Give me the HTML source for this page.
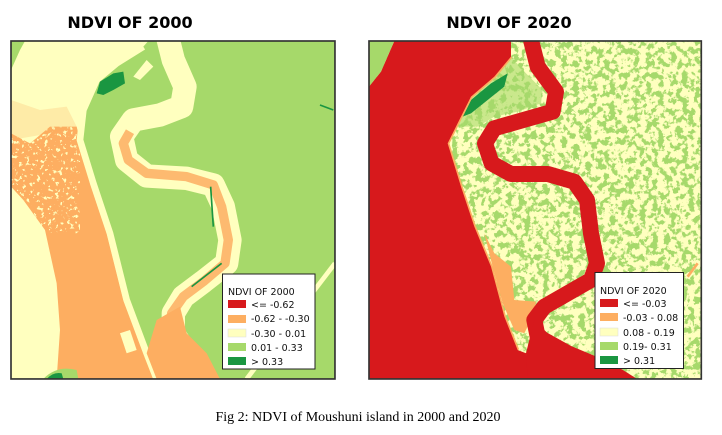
<!DOCTYPE html>
<html><head><meta charset="utf-8"><style>
html,body{margin:0;padding:0;background:#fff;width:722px;height:435px;overflow:hidden}
svg{display:block}
</style></head><body>
<svg width="722" height="435" viewBox="0 0 722 435" xmlns="http://www.w3.org/2000/svg">
<defs>
<filter id="sp" x="0" y="0" width="1100" height="1200" filterUnits="userSpaceOnUse" color-interpolation-filters="sRGB">
<feTurbulence type="fractalNoise" baseFrequency="0.055" numOctaves="4" seed="4"/>
<feColorMatrix type="matrix" values="0 0 0 0 0.65  0 0 0 0 0.85  0 0 0 0 0.42  12 0 0 0 -5.9"/>
</filter>
<filter id="sp2" x="0" y="0" width="1100" height="1200" filterUnits="userSpaceOnUse" color-interpolation-filters="sRGB">
<feTurbulence type="fractalNoise" baseFrequency="0.09" numOctaves="3" seed="9"/>
<feColorMatrix type="matrix" values="0 0 0 0 1  0 0 0 0 1  0 0 0 0 0.75  14 0 0 0 -8.6"/>
</filter>
<clipPath id="c1"><rect x="33" y="123" width="972" height="1014"/></clipPath>
<clipPath id="c2"><rect x="24" y="123" width="997" height="1014"/></clipPath>
<clipPath id="or"><polygon points="33,380 240,380 240,700 33,700"/></clipPath>
</defs>

<text x="130" y="28" font-family="DejaVu Sans, sans-serif" font-weight="bold" font-size="16" text-anchor="middle">NDVI OF 2000</text>
<text x="509" y="28" font-family="DejaVu Sans, sans-serif" font-weight="bold" font-size="16" text-anchor="middle">NDVI OF 2020</text>

<!-- MAP 1 -->
<g transform="scale(0.3333)">
<g clip-path="url(#c1)">
<rect x="33" y="123" width="972" height="1014" fill="#a6d96a"/>
<polygon fill="#ffffbf" points="33,210 60,150 75,123 445,123 430,140 350,190 290,240 250,330 240,420 280,550 330,700 380,900 440,1060 470,1137 33,1137"/>
<polygon fill="#fdae61" points="33,400 90,430 150,380 230,380 240,420 270,550 320,700 370,900 430,1060 460,1137 170,1137 180,990 170,850 135,690 70,600 33,560"/>
<g clip-path="url(#or)"><rect x="0" y="0" width="1100" height="1200" filter="url(#sp2)"/></g>
<polygon fill="#fdae61" opacity="0.25" points="33,300 120,330 200,320 230,380 150,400 33,420"/>
<path fill="none" stroke="#ffffbf" stroke-width="20" stroke-linejoin="round" d="M430,140 L350,190 L290,240 L250,330 L240,420 L280,550 L330,700 L380,900 L440,1060 L470,1137"/>
<path fill="none" stroke="#ffffbf" stroke-width="70" stroke-linejoin="round" d="M500,100 L520,180 L555,260 L545,320 L480,345 L400,360 L365,410 L380,480 L440,528 L560,535 L640,555 L670,620 L690,720 L680,790 L610,845 L550,890 L520,940 L520,1000 L560,1060 L600,1150"/>
<path fill="none" stroke="#fdae61" stroke-width="28" stroke-linejoin="round" opacity="0.85" d="M390,395 L370,430 L385,480 L440,520 L560,530 L640,555 L665,620 L685,720 L675,790 L610,845 L550,890 L515,940 L510,1000"/>
<polygon fill="#fdae61" points="470,960 540,920 560,1000 620,1060 660,1137 470,1137 440,1060"/>
<polygon fill="#ffffbf" points="360,1000 390,990 410,1050 380,1060"/>
<path fill="none" stroke="#ffffbf" stroke-width="14" d="M740,1137 L1005,790"/>
<polygon fill="#1a9641" points="290,280 300,245 340,220 370,215 375,250 340,270 310,285"/>
<polygon fill="#ffffbf" points="400,230 440,180 460,200 420,240"/>
<path fill="none" stroke="#1a9641" stroke-width="5" d="M632,560 L640,680 M575,860 L665,790 M960,315 L1000,330"/>
<path fill="#a6d96a" d="M130,1137 Q170,1095 230,1110 L235,1137Z"/>
<path fill="#1a9641" d="M140,1137 Q160,1115 185,1120 L190,1137Z"/>
</g>
<rect x="33" y="123" width="972" height="1014" fill="none" stroke="#333" stroke-width="5"/>
</g>

<!-- MAP 2 -->
<g transform="translate(361,0) scale(0.3333)">
<g clip-path="url(#c2)">
<rect x="24" y="123" width="997" height="1014" fill="#ffffbf"/>
<rect x="0" y="0" width="1100" height="1200" filter="url(#sp)"/>
<polygon fill="#a6d96a" opacity="0.6" points="300,350 330,290 400,230 450,170 490,215 545,270 540,310 470,335 400,350 350,380 290,380"/>
<polygon fill="#1a9641" points="305,350 330,300 390,250 440,220 430,260 380,300 330,340"/>
<polygon fill="#fdae61" points="370,700 400,760 450,800 460,900 525,905 515,950 490,1000 460,990 425,910 395,800"/>
<path fill="none" stroke="#fdae61" stroke-width="10" stroke-linejoin="round" d="M450,170 L400,230 L330,290 L300,350 L260,430 L300,560 L340,680 L390,800 L430,950 L470,1050"/>
<polygon fill="#d7191c" points="24,260 60,215 100,123 450,123 450,170 400,230 330,290 300,350 260,430 300,560 340,680 390,800 430,950 470,1050 495,1060 510,1137 24,1137"/>
<path fill="none" stroke="#d7191c" stroke-width="48" stroke-linejoin="round" d="M505,100 L530,200 L585,275 L575,335 L480,362 L400,385 L372,430 L392,490 L450,522 L560,522 L640,545 L678,600 L690,700 L708,790 L690,840 L620,880 L550,920 L520,960 L530,1010 L620,1060 L740,1110 L820,1160"/>
<polygon fill="#d7191c" points="495,1060 520,960 560,1000 650,1050 760,1110 810,1137 500,1137"/>
<polygon fill="#a6d96a" points="24,123 100,123 60,215 24,260"/>
<path fill="none" stroke="#fdae61" stroke-width="8" d="M980,830 L1010,790"/>
</g>
<rect x="24" y="123" width="997" height="1014" fill="none" stroke="#333" stroke-width="5"/>
</g>

<!-- Legend 1 -->
<g font-family="DejaVu Sans, sans-serif" font-size="9.5" fill="#111">
<rect x="222.5" y="274" width="92.5" height="95" fill="#fff" stroke="#222" stroke-width="1"/>
<text x="228" y="295">NDVI OF 2000</text>
<rect x="228" y="300" width="18" height="8" fill="#d7191c"/><text x="251" y="308">&lt;= -0.62</text>
<rect x="228" y="315" width="18" height="8" fill="#fdae61"/><text x="251" y="322">-0.62 - -0.30</text>
<rect x="228" y="329" width="18" height="8" fill="#ffffbf" stroke="#ddd" stroke-width="0.5"/><text x="251" y="337">-0.30 - 0.01</text>
<rect x="228" y="343" width="18" height="8" fill="#a6d96a"/><text x="251" y="351">0.01 - 0.33</text>
<rect x="228" y="357" width="18" height="8" fill="#1a9641"/><text x="251" y="365">&gt; 0.33</text>
</g>
<!-- Legend 2 -->
<g font-family="DejaVu Sans, sans-serif" font-size="9.5" fill="#111">
<rect x="595" y="272.5" width="88.5" height="96" fill="#fff" stroke="#222" stroke-width="1"/>
<text x="600" y="294">NDVI OF 2020</text>
<rect x="600" y="299" width="18" height="8" fill="#d7191c"/><text x="623" y="307">&lt;= -0.03</text>
<rect x="600" y="313" width="18" height="8" fill="#fdae61"/><text x="623" y="321">-0.03 - 0.08</text>
<rect x="600" y="328" width="18" height="8" fill="#ffffbf" stroke="#ddd" stroke-width="0.5"/><text x="623" y="336">0.08 - 0.19</text>
<rect x="600" y="342" width="18" height="8" fill="#a6d96a"/><text x="623" y="350">0.19- 0.31</text>
<rect x="600" y="356" width="18" height="8" fill="#1a9641"/><text x="623" y="364">&gt; 0.31</text>
</g>

<text x="358" y="421" font-family="Liberation Serif, serif" font-size="14" text-anchor="middle" fill="#000">Fig 2: NDVI of Moushuni island in 2000 and 2020</text>
</svg>
</body></html>
